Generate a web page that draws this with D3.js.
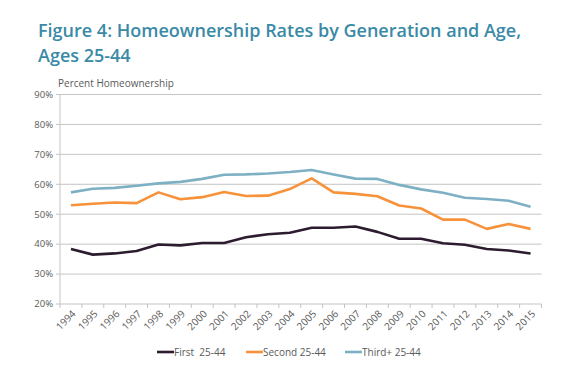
<!DOCTYPE html>
<html>
<head>
<meta charset="utf-8">
<script src="https://cdn.jsdelivr.net/npm/d3@7"></script>
<style>
  body { margin: 0; background: #fff; }
  text { font-family: "Open Sans", sans-serif; }
</style>
</head>
<body>
<svg id="chart" width="576" height="371"></svg>
<script>
const years = ["1994", "1995", "1996", "1997", "1998", "1999", "2000", "2001", "2002", "2003", "2004",
    "2005", "2006", "2007", "2008", "2009", "2010", "2011", "2012", "2013", "2014", "2015"];

const first = [38.4, 36.5, 36.9, 37.7, 39.9, 39.6, 40.4, 40.4, 42.3, 43.3, 43.8,
    45.5, 45.5, 45.9, 44.1, 41.8, 41.8, 40.3, 39.8, 38.4, 37.9, 36.9];
const second = [53.0, 53.5, 53.9, 53.7, 57.3, 55.0, 55.7, 57.4, 56.1, 56.2, 58.4,
    62.0, 57.3, 56.8, 56.0, 52.9, 51.9, 48.2, 48.2, 45.1, 46.7, 45.1];
const third = [57.3, 58.5, 58.8, 59.5, 60.3, 60.8, 61.8, 63.2, 63.3, 63.6, 64.1,
    64.8, 63.3, 61.9, 61.8, 59.8, 58.3, 57.2, 55.5, 55.1, 54.5, 52.5];

const seriesNames = ["First  25-44", "Second 25-44", "Third+ 25-44"];
const seriesColors = ["#2d1b30", "#f7923a", "#7eb0c4"];
const yTicks = [20, 30, 40, 50, 60, 70, 80, 90];

const svg = d3.select("#chart");
const plotLeft = 60, plotRight = 541.5, plotTop = 94.5, plotBottom = 304;
const textColor = "#595959";

// title
svg.append("text")
    .attr("x", 38).attr("y", 37)
    .attr("fill", "#3a8aa6")
    .attr("font-size", "18px")
    .attr("font-weight", 600)
    .text("Figure 4: Homeownership Rates by Generation and Age,");
svg.append("text")
    .attr("x", 38).attr("y", 62)
    .attr("fill", "#3a8aa6")
    .attr("font-size", "18px")
    .attr("font-weight", 600)
    .text("Ages 25-44");

const x = d3.scaleBand().domain(years).range([plotLeft, plotRight]);
const y = d3.scaleLinear().domain([20, 90]).range([plotBottom, plotTop]);

// gridlines
svg.append("g")
    .selectAll("line")
    .data(yTicks)
    .join("line")
    .attr("x1", plotLeft - 4).attr("x2", plotRight)
    .attr("y1", d => y(d)).attr("y2", d => y(d))
    .attr("stroke", "#c4c4c4")
    .attr("stroke-width", 1);

// y labels
svg.append("g")
    .selectAll("text")
    .data(yTicks)
    .join("text")
    .attr("x", 53).attr("y", d => y(d))
    .attr("dy", "0.35em")
    .attr("text-anchor", "end")
    .attr("font-size", "9.5px")
    .attr("fill", textColor)
    .text(d => d + "%");

svg.append("text")
    .attr("x", 58).attr("y", 87)
    .attr("font-size", "10px")
    .attr("fill", textColor)
    .text("Percent Homeownership");

// y axis line
svg.append("line")
    .attr("x1", plotLeft).attr("x2", plotLeft)
    .attr("y1", plotTop).attr("y2", plotBottom)
    .attr("stroke", "#c4c4c4");

// x ticks at band edges
const edges = years.map(d => x(d)).concat([plotRight]);
svg.append("g")
    .selectAll("line")
    .data(edges)
    .join("line")
    .attr("x1", d => d).attr("x2", d => d)
    .attr("y1", plotBottom).attr("y2", plotBottom + 4)
    .attr("stroke", "#c4c4c4");

// x labels
svg.append("g")
    .selectAll("text")
    .data(years)
    .join("text")
    .attr("transform", d => `translate(${x(d) + x.bandwidth() / 2 + 3},${plotBottom + 8}) rotate(-45)`)
    .attr("text-anchor", "end")
    .attr("dy", "0.35em")
    .attr("font-size", "10px")
    .attr("fill", textColor)
    .text(d => d);

// lines
const line = d3.line()
    .x((d, i) => x(years[i]) + x.bandwidth() / 2)
    .y(d => y(d));

[first, second, third].forEach(function (values, k) {
    svg.append("path")
        .datum(values)
        .attr("d", line)
        .attr("fill", "none")
        .attr("stroke", seriesColors[k])
        .attr("stroke-width", 2.6)
        .attr("stroke-linejoin", "round");
});

// legend
const legendX = [157, 246, 345];
seriesNames.forEach(function (name, k) {
    svg.append("line")
        .attr("x1", legendX[k]).attr("x2", legendX[k] + 17)
        .attr("y1", 352).attr("y2", 352)
        .attr("stroke", seriesColors[k])
        .attr("stroke-width", 2.6);
    svg.append("text")
        .attr("x", legendX[k] + 17).attr("y", 352)
        .attr("dy", "0.35em")
        .attr("font-size", "10px")
        .attr("fill", textColor)
        .style("white-space", "pre")
        .text(name);
});
</script>
</body>
</html>
